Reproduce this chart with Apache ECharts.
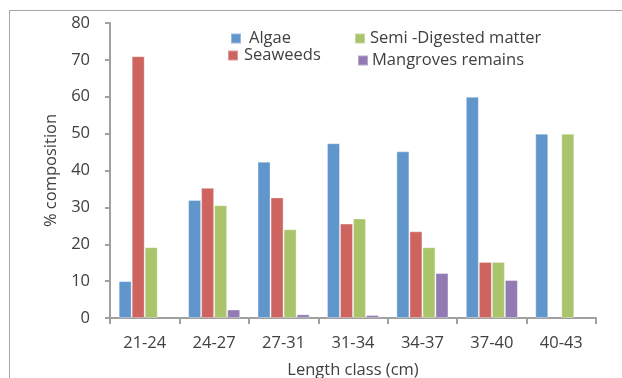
<!DOCTYPE html>
<html><head><meta charset="utf-8">
<script src="https://cdn.jsdelivr.net/npm/echarts@6/dist/echarts.min.js"></script>
<style>html,body{margin:0;padding:0;background:#fff}#c{width:622px;height:378px}</style>
</head><body><div id="c"></div>
<script>
const categories = ['21-24','24-27','27-31','31-34','34-37','37-40','40-43'];
const algae = [10, 32, 42.4, 47.4, 45.2, 60, 50];
const seaweeds = [71, 35.3, 32.7, 25.6, 23.5, 15.2, 0];
const semiDigested = [19.2, 30.6, 24.1, 27, 19.2, 15.2, 50];
const mangroves = [0, 2.3, 1, 0.8, 12.2, 10.3, 0];
const yTicks = [0,10,20,30,40,50,60,70,80];

const font = '"Open Sans", "Noto Sans", sans-serif';
const txt = '#404040';
const fs = 16.5;
const chart = echarts.init(document.getElementById('c'));
function bar(name, data, color){
  return {name, type:'bar', data: data.map(v => v === 0 ? null : v), barGap:'0%', barCategoryGap:'25%',
    itemStyle:{color, borderColor:'rgba(255,255,255,0.35)', borderWidth:1}};
}
function leg(name, left, top, padLeft){
  return {data:[name], left, top, padding:0, itemWidth:10, itemHeight:10, icon:'rect',
    textStyle:{fontFamily:font, fontSize:fs, color:txt, lineHeight:10, padding:[3,0,0,padLeft]}};
}
chart.setOption({
  animation:false,
  graphic:[{type:'rect', shape:{x:9.5,y:10.5,width:640,height:400}, style:{fill:'none', stroke:'#a6a6a6', lineWidth:1}, silent:true}],
  grid:{left:110, right:26, top:23, bottom:60, containLabel:false, outerBoundsMode:'none'},
  legend:[
    leg('Algae', 230, 30, 3),
    leg('Seaweeds', 227, 47, 1),
    leg('Semi -Digested matter', 354, 30, 0),
    leg('Mangroves remains', 357, 52, -1)
  ],
  xAxis:{type:'category', data:categories, name:'Length class (cm)', nameLocation:'middle', nameGap:44,
    nameTextStyle:{fontFamily:font, fontSize:fs, color:txt},
    axisLine:{lineStyle:{color:'#a0a0a0', width:2}}, axisTick:{show:true, length:6, lineStyle:{color:'#a0a0a0', width:2}},
    axisLabel:{fontFamily:font, fontSize:fs, color:txt, margin:17}},
  yAxis:{type:'value', min:0, max:80, interval:10, name:'% composition', nameLocation:'middle', nameGap:49,
    nameTextStyle:{fontFamily:font, fontSize:fs, color:txt},
    axisLine:{show:true, lineStyle:{color:'#a0a0a0', width:2}}, axisTick:{show:true, length:5, lineStyle:{color:'#a0a0a0', width:2}},
    splitLine:{show:false},
    axisLabel:{fontFamily:font, fontSize:fs, color:txt, margin:20, formatter: v => yTicks.includes(v) ? String(v) : ''}},
  series:[
    bar('Algae', algae, '#6096CC'),
    bar('Seaweeds', seaweeds, '#CE6460'),
    bar('Semi -Digested matter', semiDigested, '#AAC46B'),
    bar('Mangroves remains', mangroves, '#927AB2')
  ]
});
</script></body></html>
